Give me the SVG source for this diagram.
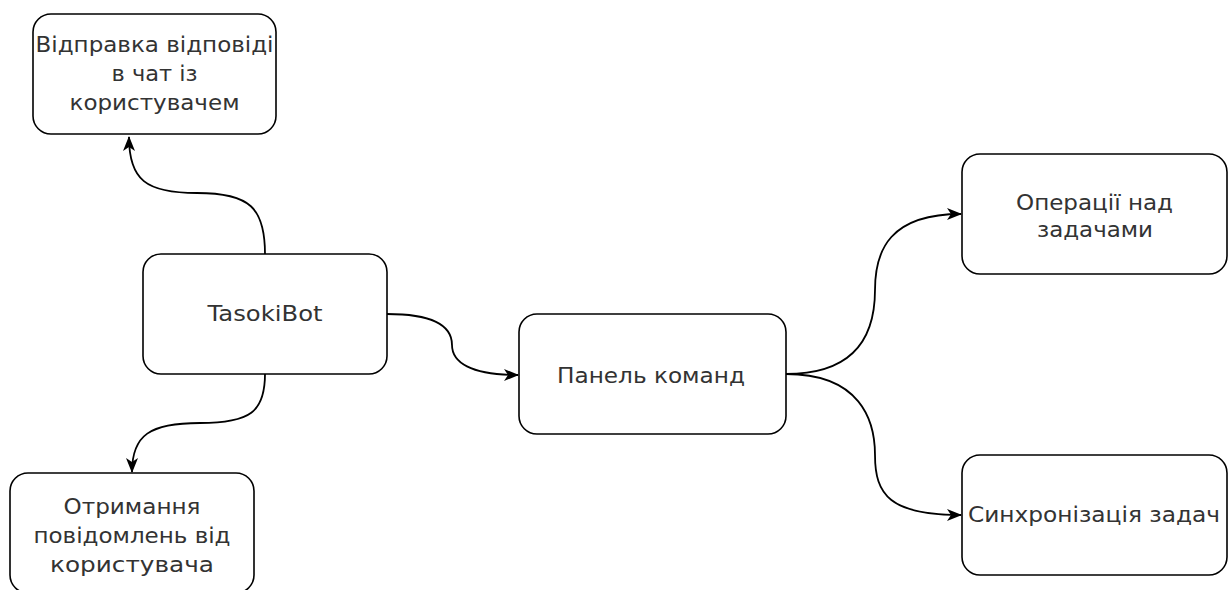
<svg xmlns="http://www.w3.org/2000/svg" width="1228" height="590" viewBox="0 0 1228 590">
<style>
.box{fill:#fff;stroke:#000;stroke-width:1.6}
.lbl{font-family:"DejaVu Sans","Liberation Sans",Arial,sans-serif;font-size:22px;fill:#333;text-anchor:middle}
.edge{fill:none;stroke:#000;stroke-width:1.8}
</style>
<defs>
<marker id="arr" viewBox="0 0 15 13" refX="14" refY="6.5" markerWidth="15" markerHeight="13" markerUnits="userSpaceOnUse" orient="auto">
<path d="M0,0.5 L15,6.5 L0,12.5 L4,6.5 Z" fill="#000"/>
</marker>
</defs>
<rect width="1228" height="590" fill="#fff"/>
<g id="connectors">
<path class="edge" d="M265,254 C265,208 250,193 197,193 C146,193 129,180 129,137" marker-end="url(#arr)"/>
<path class="edge" d="M265,374 C265,412 250,423 200,423 C150,423 132,435 132,472" marker-end="url(#arr)"/>
<path class="edge" d="M387,314 C440,314 452,330 452,345 C452,362 470,375 518,375" marker-end="url(#arr)"/>
<path class="edge" d="M786,374 C860,374 875,330 875,290 C875,250 890,214 961,214" marker-end="url(#arr)"/>
<path class="edge" d="M786,374 C860,374 875,420 875,455 C875,495 890,515 961,515" marker-end="url(#arr)"/>
</g>
<g id="node-reply">
<rect class="box" x="33" y="14" width="243" height="120" rx="18"/>
<text class="lbl" x="154.5" y="52" textLength="238" lengthAdjust="spacingAndGlyphs">Відправка відповіді</text>
<text class="lbl" x="154.5" y="81" textLength="86" lengthAdjust="spacingAndGlyphs">в чат із</text>
<text class="lbl" x="154.5" y="110" textLength="170" lengthAdjust="spacingAndGlyphs">користувачем</text>
</g>
<g id="node-bot">
<rect class="box" x="143" y="254" width="244" height="120" rx="18"/>
<text class="lbl" x="265" y="321" textLength="115" lengthAdjust="spacingAndGlyphs">TasokiBot</text>
</g>
<g id="node-receive">
<rect class="box" x="10" y="473" width="244" height="120" rx="18"/>
<text class="lbl" x="132" y="514" textLength="137" lengthAdjust="spacingAndGlyphs">Отримання</text>
<text class="lbl" x="132" y="543" textLength="197" lengthAdjust="spacingAndGlyphs">повідомлень від</text>
<text class="lbl" x="132" y="572" textLength="164" lengthAdjust="spacingAndGlyphs">користувача</text>
</g>
<g id="node-panel">
<rect class="box" x="519" y="314" width="267" height="120" rx="18"/>
<text class="lbl" x="651" y="383" textLength="188" lengthAdjust="spacingAndGlyphs">Панель команд</text>
</g>
<g id="node-ops">
<rect class="box" x="962" y="154" width="265" height="120" rx="18"/>
<text class="lbl" x="1094.5" y="210" textLength="157" lengthAdjust="spacingAndGlyphs">Операції над</text>
<text class="lbl" x="1095" y="237" textLength="116" lengthAdjust="spacingAndGlyphs">задачами</text>
</g>
<g id="node-sync">
<rect class="box" x="962" y="455" width="265" height="120" rx="18"/>
<text class="lbl" x="1094" y="522" textLength="252" lengthAdjust="spacingAndGlyphs">Синхронізація задач</text>
</g>
</svg>
